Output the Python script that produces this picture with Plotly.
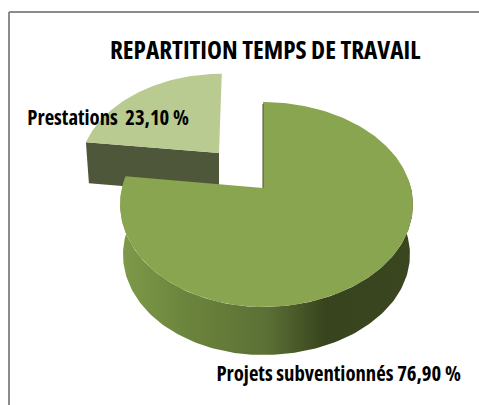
import numpy as np
import plotly.graph_objects as go

title = "REPARTITION TEMPS DE TRAVAIL"
categories = ["Projets subventionnés", "Prestations"]
values = [76.90, 23.10]
colors_top = ["#8aa54f", "#b9cb90"]
color_small_wall = "#4e5739"
wall_stops = [[0, "#7f9a49"], [0.22, "#6c853d"], [0.5, "#5b7035"], [0.7, "#38441d"], [1, "#3a4620"]]

W, H = 479, 405
K = 0.161
main = dict(cx=263, cy=188, al=141, ar=148, b=99.8, shear=0)
small = dict(cx=219, cy=153, al=137, ar=137, b=92, shear=0.035)

ends = np.cumsum(values) / sum(values) * 360.0
split = ends[0]


def project(theta_deg, g, scale=1.0, dy=0.0):
    t = np.radians(theta_deg)
    X, Y = np.sin(t), np.cos(t)
    d = 1 + K * Y
    a = np.where(X < 0, g["al"], g["ar"])
    y = -g["b"] * scale * Y / d
    x = g["cx"] + a * scale * X / d - g["shear"] * y
    return x, g["cy"] + y + dy


fig = go.Figure()


def add_poly(x, y, color=None, gradient=None):
    kw = dict(fillgradient=gradient) if gradient else dict(fillcolor=color)
    fig.add_trace(go.Scatter(x=list(x), y=list(y), mode="lines", fill="toself",
                             line=dict(width=0, color="rgba(0,0,0,0)"),
                             hoverinfo="skip", showlegend=False, **kw))


# small slice: cut face, then top
th = np.linspace(split, 360, 80)
x_l, y_l = project(np.array([split]), small)
depth_small = 41
add_poly([small["cx"], x_l[0], x_l[0] + 3, small["cx"]],
         [small["cy"], y_l[0], y_l[0] + depth_small, small["cy"] + depth_small],
         color=color_small_wall)
xs, ys = project(th, small)
add_poly(np.r_[small["cx"], xs], np.r_[small["cy"], ys], color=colors_top[1])

# main slice: outer wall with gradient, then top
th_wall = np.linspace(85, split, 160)
xt, yt = project(th_wall, main)
xb, yb = project(th_wall[::-1], main, scale=0.98, dy=50.4)
add_poly(np.r_[xt, xb], np.r_[yt, yb],
         gradient=dict(type="horizontal",
                       colorscale=wall_stops))
th_main = np.linspace(0, split, 240)
xm, ym = project(th_main, main)
add_poly(np.r_[main["cx"], xm], np.r_[main["cy"], ym], color=colors_top[0])
fig.add_trace(go.Scatter(x=[main["cx"], main["cx"]], y=[main["cy"], main["cy"] - 84],
                         mode="lines", line=dict(color="#46522a", width=1),
                         hoverinfo="skip", showlegend=False))


def label(i, sep):
    return f"{categories[i]}{sep}{values[i]:.2f}".replace(".", ",") + " %"


fnt = "Open Sans"
fig.add_annotation(x=107.5, y=117, text=label(1, "  "), showarrow=False, xanchor="center",
                   yanchor="middle", font=dict(family=fnt, size=20.7, color="#000", weight=700))
fig.add_annotation(x=338, y=373, text=label(0, " "), showarrow=False, xanchor="center",
                   yanchor="middle", font=dict(family=fnt, size=20.7, color="#000", weight=700))
fig.add_annotation(x=264.5, y=49, text=title, showarrow=False, xanchor="center",
                   yanchor="middle", font=dict(family=fnt, size=25.2, color="#000", weight=700))

# outer frame of the chart area (runs off the right and bottom of the picture)
for x0, y0, x1, y1 in [(9, 12, 9, H), (9, 12, W, 12)]:
    fig.add_shape(type="line", xref="paper", yref="paper",
                  x0=x0 / W, x1=x1 / W, y0=1 - y0 / H, y1=1 - y1 / H,
                  line=dict(color="#8c8c8c", width=2), layer="above")

fig.update_layout(width=W, height=H, margin=dict(l=0, r=0, t=0, b=0),
                  paper_bgcolor="white", plot_bgcolor="white", showlegend=False,
                  xaxis=dict(range=[0, W], visible=False, fixedrange=True),
                  yaxis=dict(range=[H, 0], visible=False, fixedrange=True))
css = ("var s=document.createElement('style');"
       "s.textContent='svg text{font-stretch:75% !important;}';"
       "document.head.appendChild(s);"
       "document.body.style.margin='0';document.body.style.overflow='hidden';")
fig.write_html("out.html", config=dict(displayModeBar=False), post_script=css)
